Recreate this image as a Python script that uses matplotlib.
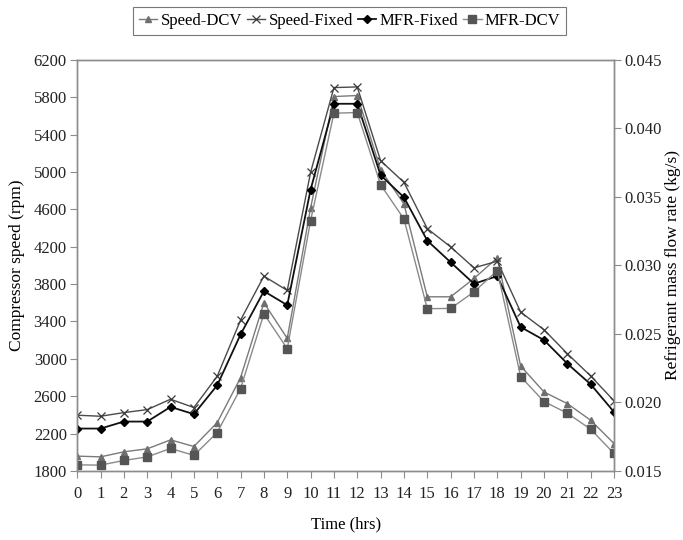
import matplotlib
matplotlib.use("Agg")
import matplotlib.pyplot as plt
import numpy as np

plt.rcParams["font.family"] = ["Liberation Serif", "DejaVu Serif"]

hours = list(range(24))

speed_dcv = [1958, 1950, 2004, 2036, 2132, 2061, 2317, 2798, 3600, 3219, 4615, 5808,
             5819, 5025, 4658, 3664, 3664, 3860, 4081, 2923, 2645, 2520, 2342, 2093]
speed_fixed = [2396, 2385, 2424, 2456, 2567, 2478, 2813, 3414, 3885, 3732, 4996, 5904,
               5911, 5121, 4889, 4394, 4198, 3974, 4045, 3500, 3311, 3055, 2816, 2550]
mfr_fixed = [0.01809, 0.01809, 0.0186, 0.0186, 0.01967, 0.01914, 0.02125, 0.02496,
             0.02812, 0.0271, 0.03553, 0.0418, 0.0418, 0.03659, 0.03497, 0.03181,
             0.03023, 0.02866, 0.02922, 0.0255, 0.02455, 0.02283, 0.02132, 0.0193]
mfr_dcv = [0.01544, 0.01542, 0.01576, 0.01602, 0.01664, 0.01613, 0.0178, 0.02101,
           0.02647, 0.02392, 0.03327, 0.04111, 0.04116, 0.03589, 0.03339, 0.02684,
           0.02686, 0.02807, 0.02962, 0.02188, 0.02006, 0.01921, 0.01804, 0.01627]

rpm_ticks = list(range(1800, 6201, 400))
mfr_ticks = [0.015, 0.020, 0.025, 0.030, 0.035, 0.040, 0.045]

fig = plt.figure(figsize=(6.83, 5.40), dpi=100)
ax = fig.add_axes([0.113, 0.128, 0.786, 0.761])
ax2 = ax.twinx()

l1, = ax.plot(hours, speed_dcv, color="#7a7a7a", lw=1.0, marker="^", ms=5,
              mfc="#6e6e6e", mec="#6e6e6e", label="Speed-DCV")
l2, = ax.plot(hours, speed_fixed, color="#4a4a4a", lw=1.0, marker="x", ms=5.5,
              mew=0.9, mec="#3a3a3a", label="Speed-Fixed")
l3, = ax2.plot(hours, mfr_fixed, color="#111111", lw=1.3, marker="D", ms=4,
               mfc="black", mec="black", label="MFR-Fixed")
l4, = ax2.plot(hours, mfr_dcv, color="#8a8a8a", lw=1.0, marker="s", ms=5.5,
               mfc="#555555", mec="#555555", label="MFR-DCV")

ax.set_xlim(0, 23)
ax.set_ylim(1800, 6200)
ax2.set_ylim(0.015, 0.045)
ax.set_xticks(hours)
ax.set_yticks(rpm_ticks)
ax2.set_yticks(mfr_ticks)
ax2.set_yticklabels([f"{t:.3f}" for t in mfr_ticks])

for a in (ax, ax2):
    for s in a.spines.values():
        s.set_color("#8c8c8c")
        s.set_linewidth(1.0)
    a.tick_params(direction="out", length=5, width=0.8, color="#8c8c8c",
                  labelsize=12, labelcolor="#222222", pad=2.5)
ax.tick_params(axis="x", pad=6)

ax.set_xlabel("Time (hrs)", fontsize=12, labelpad=10)
ax.set_ylabel("Compressor speed (rpm)", fontsize=12.5, labelpad=6)
ax2.set_ylabel("Refrigerant mass flow rate (kg/s)", fontsize=12.5, labelpad=2)

leg = fig.legend(handles=[l1, l2, l3, l4], loc="center", bbox_to_anchor=(0.512, 0.961),
                 ncol=4, fontsize=12, frameon=True, fancybox=False, handlelength=1.1,
                 handletextpad=0.2, columnspacing=0.3, borderpad=0.35)
leg.get_frame().set_edgecolor("#555555")
leg.get_frame().set_linewidth(0.8)

fig.savefig("out.png", dpi=100)
